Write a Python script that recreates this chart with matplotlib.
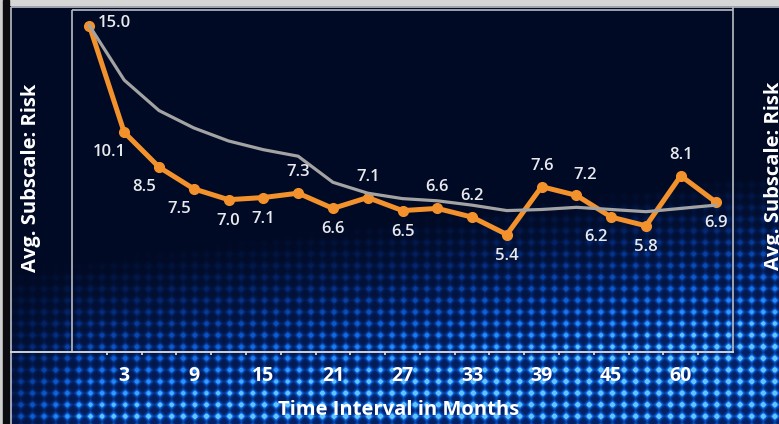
import numpy as np
import matplotlib
matplotlib.use("Agg")
import matplotlib.pyplot as plt
from matplotlib.colors import LinearSegmentedColormap

# ---- data -------------------------------------------------------------
months = ["0", "3", "6", "9", "12", "15", "18", "21", "24", "27",
          "30", "33", "36", "39", "42", "45", "51", "60", "72"]
shown_months = ["3", "9", "15", "21", "27", "33", "39", "45", "60"]
avg_risk = [15.0, 10.1, 8.5, 7.5, 7.0, 7.1, 7.3, 6.6, 7.1, 6.5,
            6.6, 6.2, 5.4, 7.6, 7.2, 6.2, 5.8, 8.1, 6.9]
trend_risk = [15.0, 12.5, 11.1, 10.3, 9.7, 9.3, 9.0, 7.8, 7.3, 7.05,
              6.95, 6.75, 6.5, 6.55, 6.65, 6.55, 6.45, 6.6, 6.75]
label_side = ["r", "bl", "bl", "bl", "b", "b", "a", "b", "a", "b",
              "a", "a", "b", "a", "ar", "bl", "b", "a", "b"]

W, H = 779, 424
fig = plt.figure(figsize=(W / 100, H / 100), dpi=100)

# ---- halftone background ---------------------------------------------
yy, xx = np.mgrid[0:H, 0:W].astype(float)
step = 11.6
dx = np.mod(xx - 3.0, step) - step / 2
dy = np.mod(yy - 4.0, step) - step / 2
dots = np.exp(-(dx ** 2 + dy ** 2) / (2 * 2.2 ** 2))
grid = np.exp(-dx ** 2 / (2 * 1.1 ** 2)) + np.exp(-dy ** 2 / (2 * 1.1 ** 2))
pattern = np.clip(dots + 0.22 * grid, 0, 1)

# glow rises toward the bottom, a little earlier on the right
start = 255 - 0.13 * (xx - 100)
env = np.clip((yy - start) / 175, 0, 1) ** 1.1
env *= np.clip(0.45 + xx / 160, 0, 1)
intensity = np.clip(env * (0.25 + 0.9 * pattern), 0, 1)

bg_cmap = LinearSegmentedColormap.from_list(
    "halftone", [(0.0, "#010a24"), (0.3, "#042670"),
                 (0.65, "#0c5fd6"), (0.88, "#2c95ff"), (1.0, "#62c4ff")])

bg = fig.add_axes([0, 0, 1, 1])
bg.imshow(intensity, cmap=bg_cmap, vmin=0, vmax=1, extent=(0, W, H, 0),
          interpolation="bilinear", aspect="auto")
bg.set_xlim(0, W)
bg.set_ylim(H, 0)
bg.axis("off")

# window chrome and pane borders (pixel coordinates)
bg.add_patch(plt.Rectangle((0, 0), W, 5, color="#d6d6d6", zorder=3))
bg.add_patch(plt.Rectangle((0, 0), 3, H, color="#cfcfcf", zorder=3))
bg.add_patch(plt.Rectangle((3, 0), 6, H, color="#0b0b10", zorder=3))
line_kw = dict(color="#b9bcc4", lw=1.2, zorder=4, solid_capstyle="butt")
bg.plot([11, W], [6.5, 6.5], **line_kw)
bg.plot([11, 11], [6.5, H], **line_kw)
bg.plot([72, 733], [10, 10], **line_kw)
bg.plot([72, 72], [10, 352], **line_kw)
bg.plot([733, 733], [6.5, 352], **line_kw)
bg.plot([11, 733], [352, 352], color="#d0d2d8", lw=1.4, zorder=4)

label_font = dict(family=["Open Sans", "DejaVu Sans"], fontweight="bold",
                  color="white", fontsize=14.5)
bg.text(31, 178, "Avg. Subscale: Risk", rotation=90, ha="center",
        va="center", **label_font)
bg.text(774, 176, "Avg. Subscale: Risk", rotation=90, ha="center",
        va="center", **label_font)
bg.text(399, 410, "Time Interval in Months", ha="center", va="center",
        **label_font)

# ---- chart ------------------------------------------------------------
ax = fig.add_axes([72 / W, (H - 352) / H, (733 - 72) / W, (352 - 10) / H])
ax.patch.set_alpha(0)
for s in ax.spines.values():
    s.set_visible(False)

x = np.arange(len(months))
ax.plot(x, avg_risk, color="#f3922c", lw=3.6, marker="o", markersize=7,
        solid_joinstyle="round", zorder=3)
ax.plot(x, trend_risk, color="#a3a3a3", lw=2.3, zorder=3.5)

ax.set_xlim(-0.5, len(months) - 0.5)
ax.set_ylim(0, 15.72)
ax.set_yticks([])

ax.set_xticks([months.index(m) for m in shown_months])
ax.set_xticklabels(shown_months, fontsize=14, fontweight="bold",
                   color="white", family=["Open Sans", "DejaVu Sans"])
ax.tick_params(axis="x", which="major", length=0, pad=10)
ax.set_xticks(np.arange(len(months) - 1) + 0.5, minor=True)
ax.tick_params(axis="x", which="minor", length=2.5, width=1.2,
               color="#e0e0e0", direction="out")

offsets = {"a": (0, 21), "ar": (9, 20), "b": (0, -21), "bl": (-15, -20),
           "r": (25, 3)}
for xi, v, side in zip(x, avg_risk, label_side):
    ax.annotate(f"{v:.1f}", (xi, v), xytext=offsets[side],
                textcoords="offset pixels", ha="center", va="center",
                fontsize=12, color="#e9eaee", fontweight="semibold",
                family=["Open Sans", "DejaVu Sans"], zorder=5)

fig.savefig("out.png", dpi=100)
